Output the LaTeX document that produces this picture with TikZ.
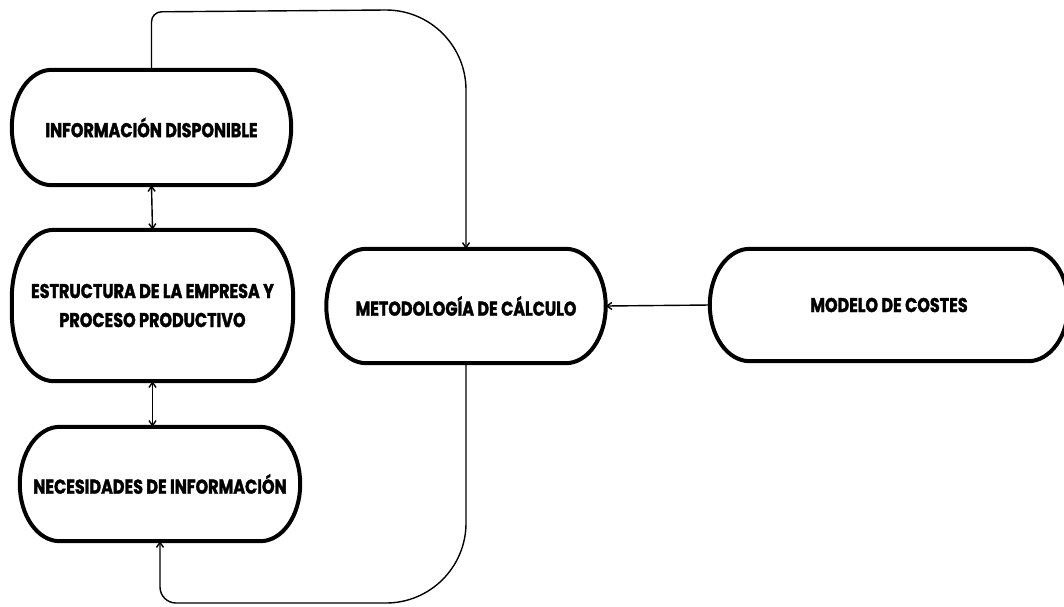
\documentclass[tikz,border=0pt]{standalone}
\usepackage{fontspec}
\setmainfont{Poppins}[FakeStretch=0.8,BoldFeatures={FakeBold=1.6}]
\usetikzlibrary{arrows.meta}
% outline of a pill with elliptical corners: #1 node, #2 x radius, #3 y radius
\newcommand\pillframe[3]{%
  \draw[frame] ([xshift=#2]#1.north west) -- ([xshift=-#2]#1.north east)
    arc[start angle=90,end angle=0,x radius=#2,y radius=#3]
    -- ([yshift=#3]#1.south east)
    arc[start angle=0,end angle=-90,x radius=#2,y radius=#3]
    -- ([xshift=#2]#1.south west)
    arc[start angle=270,end angle=180,x radius=#2,y radius=#3]
    -- ([yshift=-#3]#1.north west)
    arc[start angle=180,end angle=90,x radius=#2,y radius=#3] -- cycle;}
\begin{document}
\begin{tikzpicture}[x=1pt,y=1pt,
  pill/.style={inner sep=0pt, align=center, font=\bfseries\fontsize{20}{29}\selectfont},
  frame/.style={draw=black, line width=4pt, line join=round},
  link/.style={line width=1.4pt, black},
  >={Straight Barb[length=5pt,width=7pt]}]
\useasboundingbox (0,0) rectangle (1064,-606);

% boxes
\node[pill, minimum width=279pt, minimum height=115pt] (disp) at (151.5,-127.5) {INFORMACIÓN DISPONIBLE};
\node[pill, minimum width=281pt, minimum height=151pt] (estr) at (152.5,-305.5) {ESTRUCTURA DE LA EMPRESA Y\\PROCESO PRODUCTIVO};
\node[pill, minimum width=280pt, minimum height=114pt] (nece) at (160,-484) {NECESIDADES DE INFORMACIÓN};
\node[pill, minimum width=279pt, minimum height=114pt] (meto) at (466,-306) {METODOLOGÍA DE CÁLCULO};
\node[pill, minimum width=358pt, minimum height=112pt] (mode) at (889,-305) {MODELO DE COSTES};

\pillframe{disp}{40pt}{57.5pt}
\pillframe{estr}{42pt}{68pt}
\pillframe{nece}{40pt}{57pt}
\pillframe{meto}{40pt}{57pt}
\pillframe{mode}{40pt}{56pt}

% connectors
\draw[link,<->] (disp.south) -- (estr.north);
\draw[link,<->] (estr.south) -- (estr.south |- nece.north);
\draw[link,->] (mode.west) -- (meto.east);
\draw[link,->] (disp.north) -- ++(0,48) arc[start angle=180,end angle=90,radius=10]
  -- (386,-10) arc[start angle=90,end angle=0,radius=80] -- (meto.north);
\draw[link,->] (meto.south) -- (466,-523) arc[start angle=0,end angle=-90,radius=80]
  -- (176,-603) arc[start angle=270,end angle=180,radius=16] -- (nece.south);
\end{tikzpicture}
\end{document}
